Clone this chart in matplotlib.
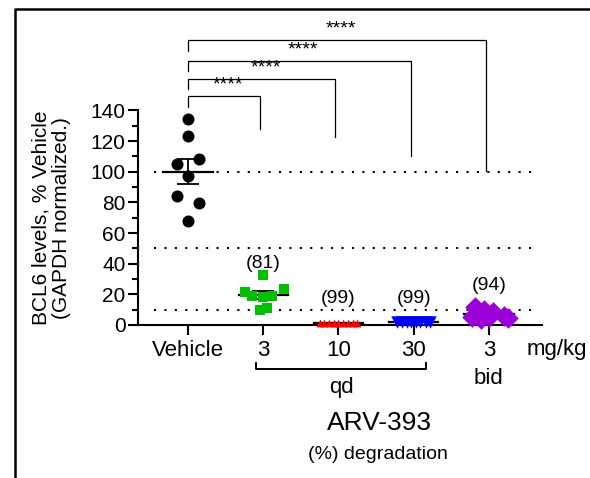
import numpy as np
import matplotlib
matplotlib.use("Agg")
import matplotlib.pyplot as plt
from matplotlib.lines import Line2D

plt.rcParams['font.family'] = ['Liberation Sans', 'DejaVu Sans']

# Data (% of vehicle, GAPDH normalized)
groups = ["Vehicle", "3", "10", "30", "3"]
vehicle = [134.6, 123.3, 108.5, 105.2, 97.2, 84.1, 79.4, 67.8]
qd_3 = [32.6, 21.7, 18.9, 18.5, 18.9, 23.5, 9.8, 11.1]
qd_10 = [1.4, 1.2, 1.6, 1.3, 1.5, 1.2, 1.4, 1.3, 1.6]
qd_30 = [2.0, 2.2, 1.9, 2.1, 2.0, 2.2, 1.9, 2.1]
bid_3 = [11.5, 10.0, 8.5, 6.0, 4.5, 5.0, 4.0, 5.5]
degradation = ["", "(81)", "(99)", "(99)", "(94)"]
thresholds = [100, 50, 10]

# horizontal jitter (category units) for the scatter points
jitter = [
    [0, 0, 0.15, -0.15, 0, -0.15, 0.15, 0],
    [0, -0.25, -0.15, -0.01, 0.12, 0.28, -0.05, 0.05],
    [-0.25, -0.19, -0.12, -0.06, 0, 0.06, 0.13, 0.19, 0.25],
    [-0.22, -0.16, -0.09, -0.03, 0.03, 0.09, 0.16, 0.22],
    [-0.19, -0.06, 0.06, 0.2, 0.25, -0.22, -0.1, 0.0],
]
series = [vehicle, qd_3, qd_10, qd_30, bid_3]
colors = ["black", "#00c000", "#ff0000", "#0000ff", "#9b00d9"]
markers = ["o", "s", "^", "v", "D"]
sizes = [75, 60, 32, 80, 110]
label_y = [0, 40.4, 17.6, 17.6, 26]

fig = plt.figure(figsize=(5.9, 4.78), dpi=100)
ax = fig.add_axes([138 / 590, 1 - 325 / 478, 404 / 590, 190 * 1.533 / 478])

for i, vals in enumerate(series):
    x = i + np.array(jitter[i])
    ax.scatter(x, vals, s=sizes[i], marker=markers[i], color=colors[i],
               linewidths=0, zorder=3, clip_on=False)
    m = np.mean(vals)
    sem = np.std(vals, ddof=1) / np.sqrt(len(vals))
    ax.plot([i - 0.33, i + 0.33], [m, m], color="black", lw=1.6, zorder=2)
    ax.errorbar(i, m, yerr=sem, color="black", capsize=8, lw=1.3,
                capthick=1.3, zorder=2)
    if degradation[i]:
        ax.text(i, label_y[i], degradation[i], ha="center", va="center", fontsize=14)

for t in thresholds:
    ax.plot([-0.45, 4.64], [t, t], color="black", lw=1.5,
            linestyle=(0, (1, 4)), zorder=1)

# significance brackets vs vehicle
tops = [149.4, 160.7, 172.4, 185.9]
ends = [128, 122.8, 110, 100.5]
for k in range(4):
    xr = k + 1 - 0.04
    ax.plot([0, 0, xr, xr], [tops[k] - 7, tops[k], tops[k], ends[k]],
            color="black", lw=0.9, clip_on=False)
    ax.text(xr / 2 + 0.05, tops[k] + 1.5, "****", ha="center", va="bottom",
            fontsize=14)

ax.set_xlim(-0.667, 4.707)
ax.set_ylim(0, 190)
ax.spines["top"].set_visible(False)
ax.spines["right"].set_visible(False)
ax.spines["left"].set_bounds(0, 140)
ax.spines["left"].set_linewidth(1.5)
ax.spines["bottom"].set_linewidth(1.5)
ax.set_yticks(np.arange(0, 141, 20))
ax.set_yticks(np.arange(10, 140, 20), minor=True)
ax.set_xticks(range(len(groups)))
ax.set_xticklabels(groups)
ax.tick_params(axis="y", which="major", length=7, width=1.5, labelsize=15, pad=2)
ax.tick_params(axis="y", which="minor", length=4, width=1.5)
ax.tick_params(axis="x", length=7, width=1.5, labelsize=16, pad=4)

ax.set_ylabel("BCL6 levels, % Vehicle\n(GAPDH normalized.)", fontsize=15,
              multialignment="center", linespacing=1.15)
ax.yaxis.set_label_coords(-0.165, 70 / 190)

# labels under the x axis
ax.text(4.5, -16.3, "mg/kg", ha="left", va="center", fontsize=16)
ax.plot([0.9, 0.9, 3.17, 3.17], [-24.8, -28.7, -28.7, -24.8], color="black",
        lw=1.4, clip_on=False)
ax.text(2.04, -41, "qd", ha="center", va="center", fontsize=16)
ax.text(4.0, -35.2, "bid", ha="center", va="center", fontsize=16)
ax.text(2.55, -64, "ARV-393", ha="center", va="center", fontsize=19)
ax.text(2.52, -84.8, "(%) degradation", ha="center", va="center", fontsize=14)

# frame around the panel (only top and left edges fall inside the image)
fig.add_artist(Line2D([15 / 590, 15 / 590, 1.0], [0.0, 1 - 8.5 / 478, 1 - 8.5 / 478],
                      color="black", lw=1.8))

fig.savefig("out.png", dpi=100)
